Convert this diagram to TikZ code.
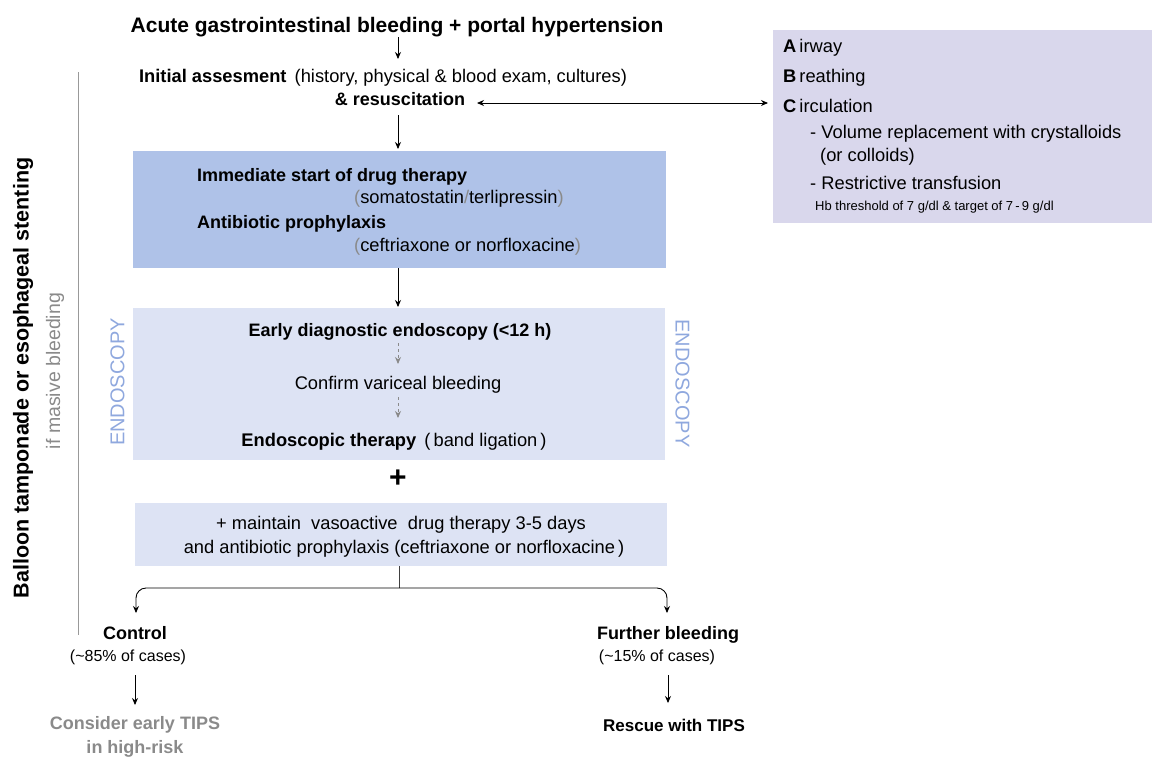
\documentclass[tikz,border=0pt]{standalone}
\usepackage{fontspec}
\setmainfont{Liberation Sans}
\usetikzlibrary{arrows.meta}
\definecolor{boxA}{HTML}{AFC2E8}
\definecolor{boxB}{HTML}{DDE3F4}
\definecolor{boxC}{HTML}{D9D7EC}
\definecolor{endo}{HTML}{8FA8DE}
\definecolor{gtxt}{HTML}{8A8A8A}
\definecolor{gline}{HTML}{999999}
\tikzset{
  tip/.tip={Stealth[length=7pt,width=6pt]},
  arr/.style={draw=black, line width=0.9pt, -tip},
  darr/.style={draw=gtxt, line width=0.9pt, dash pattern=on 3pt off 3pt, -tip},
  txt/.style={inner sep=0pt, anchor=base, font=\fontsize{18.3}{22}\selectfont, align=center},
  btxt/.style={txt, font=\fontsize{18}{22}\selectfont\bfseries},
  stxt/.style={txt, font=\fontsize{16}{19}\selectfont},
  ltxt/.style={txt, anchor=base west, align=left},
  vtxt/.style={inner sep=0pt, font=\fontsize{20}{24}\selectfont, text=endo},
}
\begin{document}
\begin{tikzpicture}[x=1pt,y=-1pt]
\useasboundingbox (0,0) rectangle (1152,756);
% right ABC box
\fill[boxC] (773,30) rectangle (1152,223);
\node[ltxt] (air) at (783,52) {\textbf{A}\,irway};
\node[ltxt] (bre) at (783,82) {\textbf{B}\,reathing};
\node[ltxt] (cir) at (783,112) {\textbf{C}\,irculation};
\node[ltxt] (vol) at (810,138) {- Volume replacement with crystalloids};
\node[ltxt] (col) at (820,161) {(or colloids)};
\node[ltxt] (res) at (810,189) {- Restrictive transfusion};
\node[ltxt, font=\fontsize{13}{15}\selectfont] (hb) at (815,210) {Hb threshold of 7 g/dl \& target of 7\,-\,9 g/dl};
% title and assessment
\node[btxt, font=\fontsize{21}{24}\selectfont\bfseries] (title) at (397,32) {Acute gastrointestinal bleeding + portal hypertension};
\node[txt] (init) at (383,82) {\textbf{Initial assesment}\ \,(history, physical \& blood exam, cultures)};
\node[btxt] (resus) at (400,105) {\& resuscitation};
\coordinate (a1s) at (398,37); \coordinate (a1e) at (398,59);
\draw[arr] (a1s) -- (a1e);
\coordinate (dl) at (477,103); \coordinate (dr) at (768,103);
\draw[arr, tip-tip] (dl) -- (dr);
% box 1
\fill[boxA] (133,151) rectangle (666,268);
\node[btxt, anchor=base west] (drug) at (197,181.5) {Immediate start of drug therapy};
\node[txt, anchor=base west] (soma) at (354,203.5) {\textcolor{gtxt}{(}somatostatin\textcolor{gtxt}{/}terlipressin\textcolor{gtxt}{)}};
\node[btxt, anchor=base west] (anti) at (197,228.5) {Antibiotic prophylaxis};
\node[txt, anchor=base west] (ceft) at (354,251.5) {\textcolor{gtxt}{(}ceftriaxone or norfloxacine\textcolor{gtxt}{)}};
\coordinate (a2s) at (398,115); \coordinate (a2e) at (398,149);
\draw[arr] (a2s) -- (a2e);
% box 2
\fill[boxB] (133,308) rectangle (665,460);
\coordinate (a3s) at (398,268); \coordinate (a3e) at (398,307);
\draw[arr] (a3s) -- (a3e);
\node[btxt] (early) at (400,336.5) {Early diagnostic endoscopy (<12 h)};
\node[txt] (conf) at (398,389.5) {Confirm variceal bleeding};
\node[txt] (endt) at (394,446.5) {\textbf{Endoscopic therapy}\ \,(\,band ligation\,)};
\coordinate (d1s) at (398,343); \coordinate (d1e) at (398,364);
\coordinate (d2s) at (398,397); \coordinate (d2e) at (398,418);
\draw[darr] (d1s) -- (d1e);
\draw[darr] (d2s) -- (d2e);
\node[vtxt, rotate=90] (endL) at (117.5,382) {ENDOSCOPY};
\node[vtxt, rotate=-90] (endR) at (682.5,383.5) {ENDOSCOPY};
% plus
\node[inner sep=0pt, font=\fontsize{30}{30}\selectfont\bfseries] (plus) at (398,479) {+};
% box 3
\fill[boxB] (135,503) rectangle (667,566);
\node[txt] (m1) at (401,529.5) {+ maintain\ \ vasoactive\ \ drug therapy 3-5 days};
\node[txt] (m2) at (404,553.5) {and antibiotic prophylaxis (ceftriaxone or norfloxacine\,)};
\coordinate (b3s) at (399,566);
\coordinate (fork) at (399,588);
\draw[line width=0.9pt, draw=black!75] (b3s) -- (fork);
\coordinate (lt) at (136,613); \coordinate (rt) at (667,613);
\draw[arr, rounded corners=10pt] (fork) -| (lt);
\draw[arr, rounded corners=10pt] (fork) -| (rt);
% outcomes
\node[btxt] (ctrl) at (135,639) {Control};
\node[stxt] (ctrlp) at (128,661) {(\textasciitilde85\% of cases)};
\node[btxt] (furt) at (668,639) {Further bleeding};
\node[stxt] (furtp) at (657,661) {(\textasciitilde15\% of cases)};
\coordinate (c1s) at (135,675); \coordinate (c1e) at (135,705);
\coordinate (c2s) at (668,675); \coordinate (c2e) at (668,703);
\draw[arr] (c1s) -- (c1e);
\draw[arr] (c2s) -- (c2e);
\node[btxt, text=gtxt] (cons) at (135,729.5) {Consider early TIPS};
\node[btxt, text=gtxt] (cons2) at (135,753.5) {in high-risk};
\node[btxt, font=\fontsize{17}{20}\selectfont\bfseries] (resc) at (674,731.5) {Rescue with TIPS};
% left side
\coordinate (vt) at (78,72); \coordinate (vb) at (78,635);
\draw[gline, line width=0.9pt] (vt) -- (vb);
\node[inner sep=0pt, rotate=90, font=\fontsize{21.5}{24}\selectfont\bfseries] (ball) at (23,378) {Balloon tamponade or esophageal stenting};
\node[inner sep=0pt, rotate=90, text=gtxt, font=\fontsize{19.5}{22}\selectfont] (mas) at (55,371) {if masive bleeding};
\end{tikzpicture}
\end{document}
